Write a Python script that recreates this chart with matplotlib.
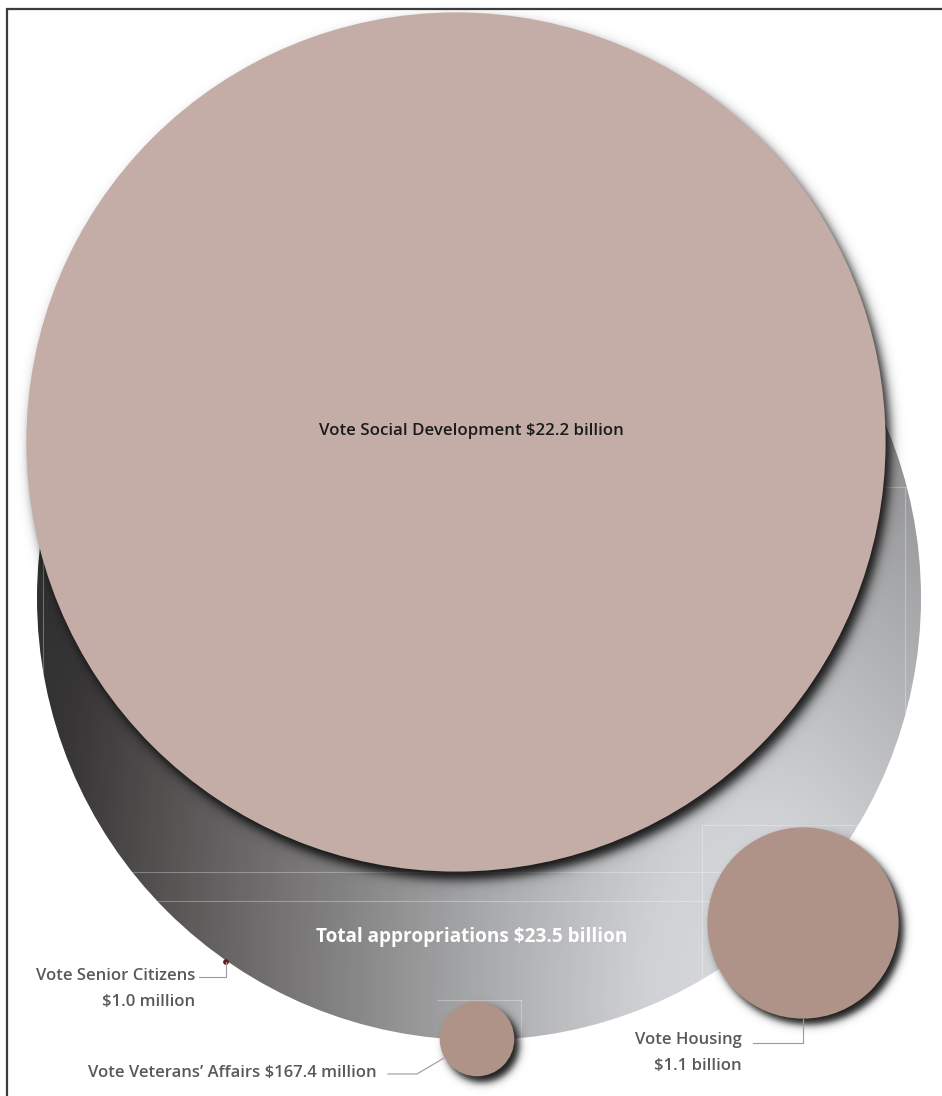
import numpy as np
import matplotlib.pyplot as plt
from matplotlib.colors import LinearSegmentedColormap
from matplotlib.patches import Circle

# Appropriations by vote, $ billion
total_label = "Total appropriations $23.5 billion"
total_value = 23.5
votes = ["Vote Social Development", "Vote Housing",
         "Vote Veterans\u2019 Affairs", "Vote Senior Citizens"]
vote_values = [22.2, 1.1, 0.1674, 0.001]
vote_amounts = ["$22.2 billion", "$1.1 billion", "$167.4 million", "$1.0 million"]

# canvas is laid out in pixels, y pointing down
W, H = 942, 1096
R_TOTAL = 442
total_centre = (479, 598)
vote_centres = [(456, 442), (803, 923), (477, 1039), (226, 962)]
vote_colours = ["#c4ada7", "#b09388", "#b09388", "#6b1a22"]
FONT = ["Open Sans", "DejaVu Sans"]
LABEL_GREY = "#58595b"
LEADER_GREY = "#9a9a9a"


def radius(v):
    return R_TOTAL * np.sqrt(v / total_value)


def drop_shadow(ax, cx, cy, r, dx, dy, soft, strength, z):
    yy, xx = np.mgrid[0:H, 0:W] + 0.5
    d = np.hypot(xx - cx - dx, yy - cy - dy)
    a = strength * 0.5 * (1 - np.tanh((d - r) / soft))
    img = np.zeros((H, W, 4))
    img[..., 3] = a
    ax.imshow(img, extent=(0, W, H, 0), origin="upper", zorder=z,
              interpolation="bilinear")


fig = plt.figure(figsize=(W / 100, H / 100), dpi=100)
ax = fig.add_axes([0, 0, 1, 1])
ax.set_xlim(0, W)
ax.set_ylim(H, 0)
ax.axis("off")

# frame (cut off on the right and bottom)
ax.plot([7, 7, W], [H, 9, 9], color="#3c3c3c", lw=1.6, zorder=20,
        solid_joinstyle="miter")

# total: grey disc with a metallic gradient, dark upper left to light lower right
cx, cy = total_centre
x0, x1, y0, y1 = cx - R_TOTAL, cx + R_TOTAL, cy - R_TOTAL, cy + R_TOTAL
yy, xx = np.mgrid[y0:y1, x0:x1] + 0.5
dist = np.hypot(xx - 760, (yy - 1000) * 0.6)
stops = [(0.0, "#d9dcdf"), (0.14, "#cfd1d4"), (0.35, "#a6a7a9"),
         (0.58, "#767474"), (0.74, "#545151"), (0.86, "#383636"),
         (1.0, "#2a2a2a")]
grad = LinearSegmentedColormap.from_list("metal", stops)
disc = Circle(total_centre, R_TOTAL, transform=ax.transData, facecolor="none",
              edgecolor="none")
ax.add_patch(disc)
im = ax.imshow(grad(np.clip(dist / 820, 0, 1)), extent=(x0, x1, y1, y0),
               origin="upper", zorder=1, interpolation="bilinear")
im.set_clip_path(disc)

# faint guide lines left over on the grey disc
guides = [([40, 905], [872, 872]), ([40, 905], [901, 901]),
          ([905, 905], [487, 901]), ([880, 905], [487, 487]),
          ([43, 43], [530, 872]), ([702, 905], [825, 825]),
          ([702, 702], [825, 1016]), ([437, 521], [1000, 1000]),
          ([521, 521], [1000, 1040])]
for gx, gy in guides:
    ln, = ax.plot(gx, gy, color="white", lw=0.8, alpha=0.3, zorder=2)
    ln.set_clip_path(disc)

# vote discs, area proportional to appropriation
for i, (val, (vx, vy), col) in enumerate(zip(vote_values, vote_centres, vote_colours)):
    r = radius(val)
    if r > 10:
        big = r > 200
        drop_shadow(ax, vx, vy, r, dx=5, dy=8 if big else 6,
                    soft=6.5 if big else 4.5, strength=0.9, z=3 + 2 * i)
    ax.add_patch(Circle((vx, vy), r, facecolor=col, edgecolor="none",
                        zorder=4 + 2 * i))

# labels inside the discs
ax.text(471, 431, f"{votes[0]} {vote_amounts[0]}", ha="center", va="center",
        fontsize=12.2, fontweight="semibold", color="#1b1b1b", family=FONT,
        zorder=15)
ax.text(472, 937, total_label, ha="center", va="center", fontsize=13.7,
        fontweight="bold", color="white", family=FONT, zorder=15)

# leaders and outside labels
lead = dict(color=LEADER_GREY, lw=0.8, zorder=15)
txt = dict(ha="right", va="center", fontsize=12, color=LABEL_GREY,
           family=FONT, fontweight="semibold", zorder=15)

# senior citizens
ax.plot([226, 226, 199], [962, 977, 977], **lead)
ax.text(195, 976, votes[3], **txt)
ax.text(195, 1002, vote_amounts[3], **txt)

# veterans' affairs
ax.plot([388, 417, 444], [1074, 1074, 1058], **lead)
ax.text(377, 1073, f"{votes[2]} {vote_amounts[2]}", **txt)

# housing
ax.plot([803, 803, 753], [1019, 1043, 1043], **lead)
ax.text(742, 1040, votes[1], **txt)
ax.text(742, 1066, vote_amounts[1], **txt)

fig.savefig("out.png", dpi=100, facecolor="white")
